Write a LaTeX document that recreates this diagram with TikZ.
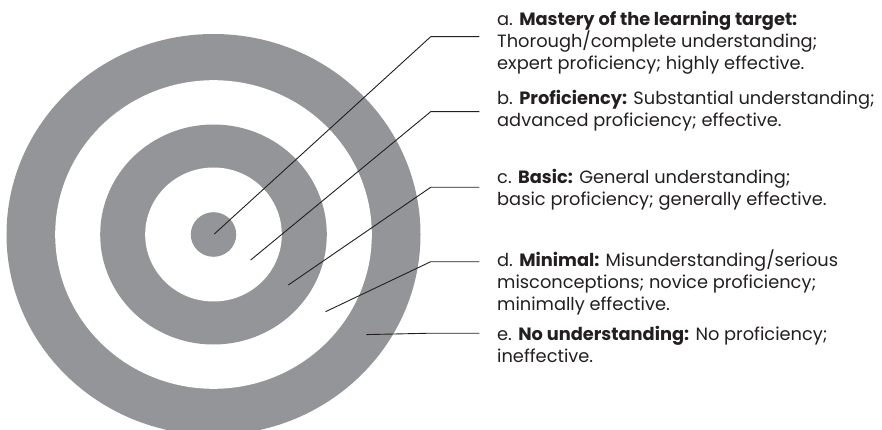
\documentclass[tikz,border=0pt]{standalone}
\usepackage{fontspec}
\setmainfont{Poppins}
\usetikzlibrary{calc}
\definecolor{ringgray}{RGB}{147,149,152}
\definecolor{inkdark}{RGB}{35,31,32}
\tikzset{
	x=1pt, y=-1pt,
	ring/.style={fill=#1, draw=none},
	leader/.style={draw=inkdark, line width=0.9pt},
	levellabel/.style={anchor=base west, inner sep=0pt, align=left, text=inkdark,
		font=\fontsize{17.8}{22}\selectfont}
}

\begin{document}
\begin{tikzpicture}
		%%%%% START %%%%%
		\useasboundingbox (0, 0) rectangle (882, 430);
		
		\coordinate (ctr) at (213.5, 234.5);
		\begin{scope}
			\clip (0, 0) rectangle (882, 430);
			\fill[ring=ringgray] (ctr) ellipse [x radius=207, y radius=200.5];
			\fill[ring=white] (ctr) ellipse [x radius=158.3, y radius=154.3];
			\fill[ring=ringgray] (ctr) ellipse [x radius=113.3, y radius=110];
			\fill[ring=white] (ctr) ellipse [x radius=68.3, y radius=67];
			\fill[ring=ringgray] (ctr) ellipse [x radius=22.7, y radius=22.3];
		\end{scope}
		
		% base anchor sits on the last line
		\node[levellabel] (labA) at (497, 70) {a. \textbf{Mastery of the learning target:}\\Thorough/complete understanding;\\expert proficiency; highly effective.};
		\node[levellabel] (labB) at (497, 127) {b. \textbf{Proficiency:} Substantial understanding;\\advanced proficiency; effective.};
		\node[levellabel] (labC) at (497, 205.3) {c. \textbf{Basic:} General understanding;\\basic proficiency; generally effective.};
		\node[levellabel] (labD) at (497, 310) {d. \textbf{Minimal:} Misunderstanding/serious\\misconceptions; novice proficiency;\\minimally effective.};
		\node[levellabel] (labE) at (497, 362) {e. \textbf{No understanding:} No proficiency;\\ineffective.};
		
		\coordinate (tipA) at (214.3, 234);
		\coordinate (tipB) at (250.7, 260);
		\coordinate (tipC) at (288.3, 285);
		\coordinate (tipD) at (325.5, 311.7);
		\coordinate (tipE) at (366.3, 334.6);
		
		\coordinate (kneeA) at (430.7, 36.7);
		\coordinate (kneeB) at (430.7, 111.7);
		\coordinate (kneeC) at (430.7, 187.3);
		\coordinate (kneeD) at (430.7, 261.7);
		\coordinate (kneeE) at (430.7, 333.2);
		
		\foreach \k in {A,B,C,D,E}
			\draw[leader] (tip\k) -- (knee\k) -- (knee\k -| 479.3, 0);
		
		%%%%% END %%%%%
	\end{tikzpicture}
\end{document}
